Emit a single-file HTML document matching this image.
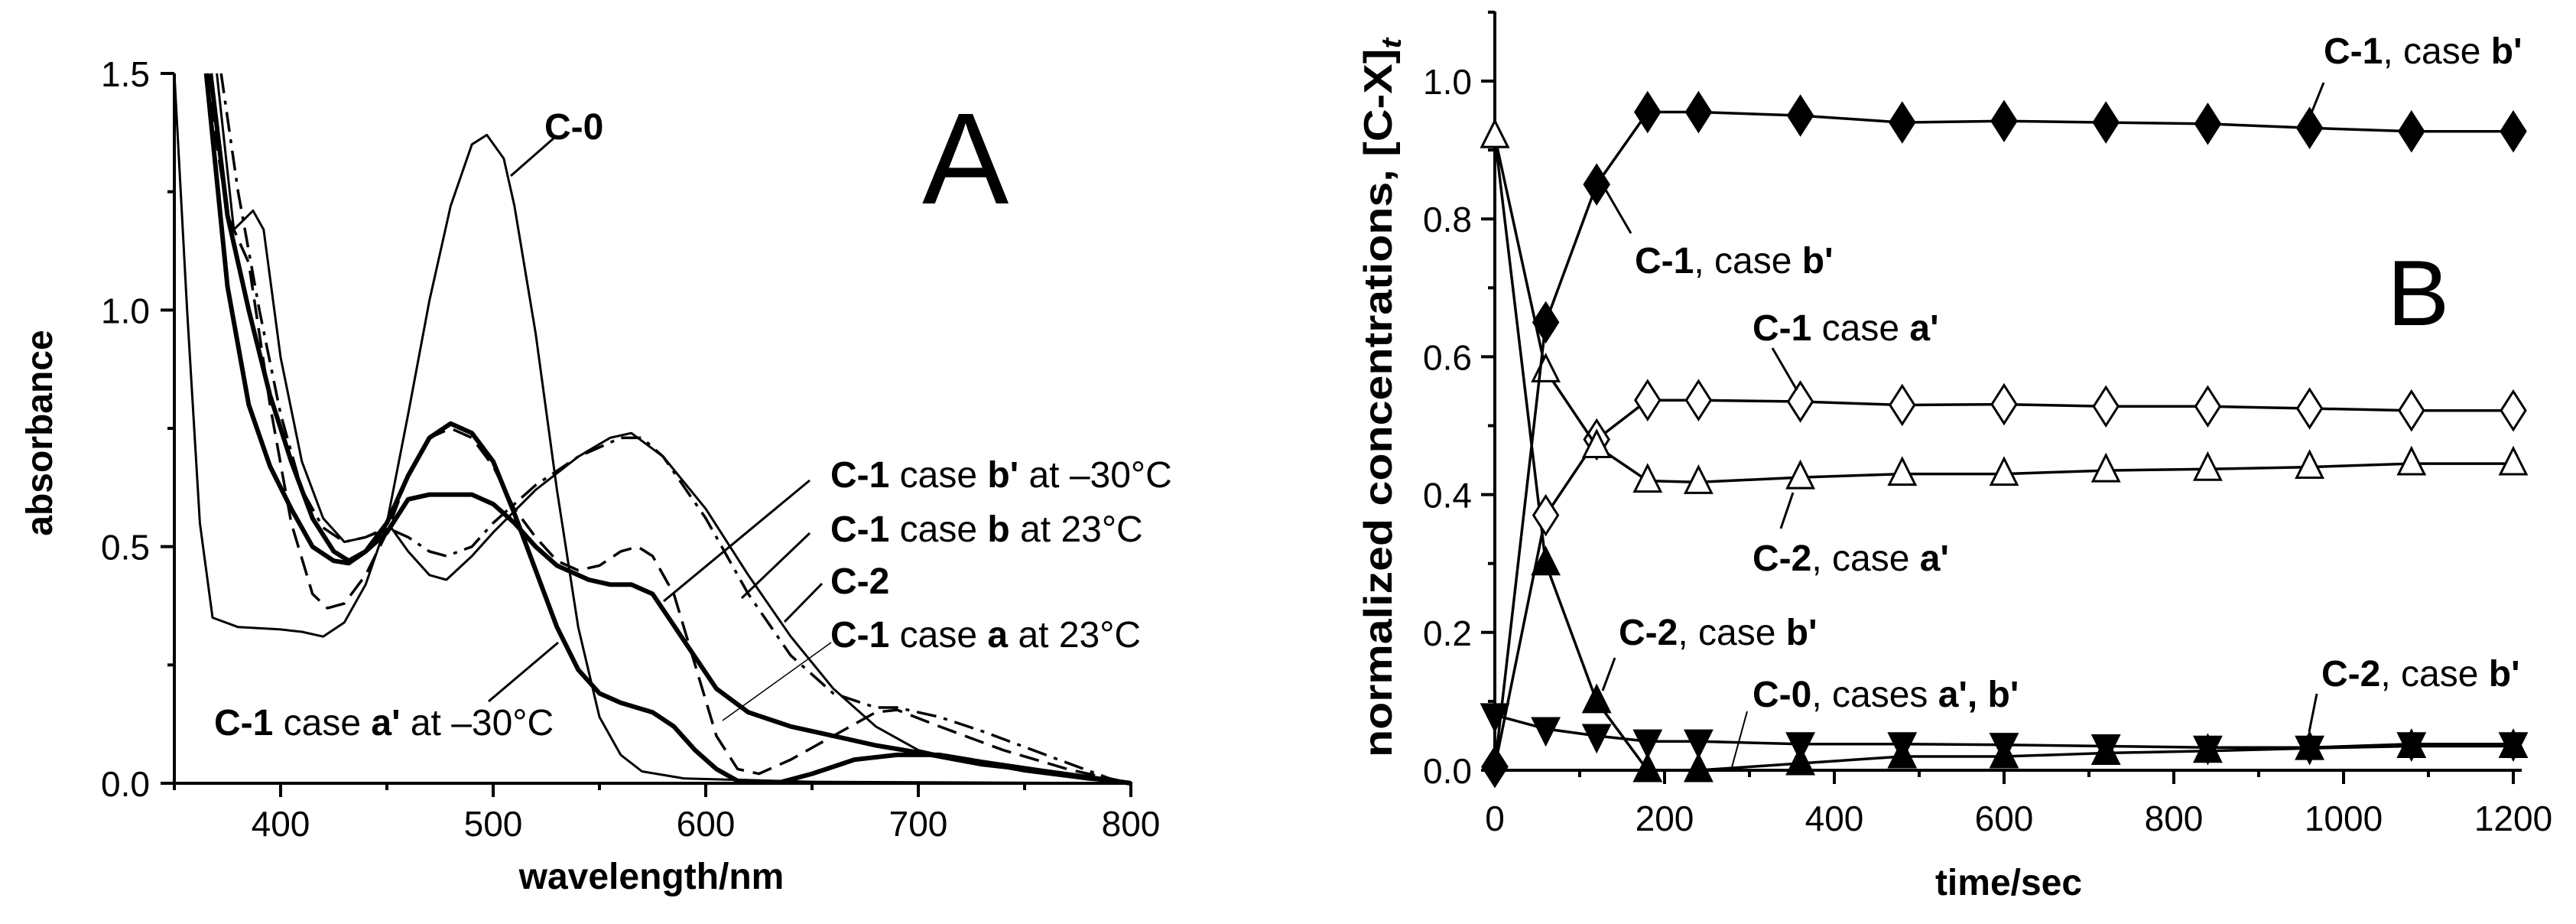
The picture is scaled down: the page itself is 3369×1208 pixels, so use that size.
<!DOCTYPE html>
<html><head><meta charset="utf-8">
<style>
html,body{margin:0;padding:0;background:#fff;}
svg{display:block;font-family:"Liberation Sans",Arial,sans-serif;}
</style></head>
<body>
<svg id="fig" width="3369" height="1208" viewBox="0 0 3369 1208" xmlns="http://www.w3.org/2000/svg">
<g id="panelA"></g>
<g id="panelB"></g>
</svg>
<script>
// ---------- Panel A data ----------
const aXTicks = [400, 500, 600, 700, 800];
const aYTicks = ["0.0", "0.5", "1.0", "1.5"];
const specC0 = [[350,1.5],[356,1.0],[362,0.55],[368,0.35],[380,0.33],[400,0.325],[410,0.32],[420,0.31],[430,0.34],[440,0.42],[450,0.55],[460,0.78],[470,1.02],[480,1.22],[490,1.35],[497,1.37],[505,1.32],[510,1.22],[520,0.95],[530,0.62],[540,0.33],[550,0.14],[560,0.06],[570,0.025],[590,0.01],[650,0.003],[800,0]];
const specC2 = [[370,1.5],[378,1.17],[387,1.21],[392,1.17],[400,0.9],[410,0.68],[420,0.56],[430,0.51],[440,0.52],[452,0.54],[460,0.49],[470,0.44],[478,0.43],[490,0.48],[500,0.53],[520,0.62],[540,0.69],[555,0.73],[565,0.74],[580,0.69],[600,0.58],[620,0.44],[640,0.31],[660,0.2],[680,0.12],[700,0.07],[720,0.05],[750,0.025],[780,0.008],[800,0]];
const specC1b = [[372,1.5],[380,1.25],[390,1.0],[400,0.78],[410,0.62],[420,0.54],[430,0.51],[440,0.52],[450,0.54],[460,0.52],[470,0.49],[478,0.48],[490,0.5],[500,0.55],[520,0.63],[540,0.69],[560,0.73],[570,0.73],[580,0.69],[600,0.56],[620,0.4],[640,0.27],[660,0.19],[680,0.16],[690,0.16],[710,0.14],[730,0.11],[760,0.06],[790,0.01],[800,0]];
const specC1bp = [[367,1.5],[375,1.2],[385,1.0],[395,0.82],[405,0.68],[415,0.56],[425,0.49],[432,0.47],[440,0.49],[450,0.53],[460,0.6],[470,0.61],[480,0.61],[490,0.61],[500,0.59],[510,0.55],[520,0.5],[530,0.46],[545,0.43],[555,0.42],[565,0.42],[575,0.4],[590,0.3],[605,0.2],[620,0.15],[640,0.12],[660,0.1],[680,0.08],[700,0.065],[730,0.04],[760,0.025],[800,0]];
const specC1ap = [[365,1.5],[375,1.05],[385,0.8],[395,0.67],[405,0.58],[415,0.5],[425,0.47],[432,0.465],[440,0.49],[450,0.55],[460,0.65],[470,0.73],[480,0.76],[490,0.74],[500,0.68],[510,0.57],[520,0.45],[530,0.33],[540,0.24],[550,0.19],[560,0.17],[575,0.15],[585,0.12],[595,0.07],[605,0.03],[615,0.005],[635,0.002],[650,0.02],[670,0.05],[690,0.06],[710,0.06],[730,0.045],[760,0.025],[800,0]];
const specC1a = [[365,1.5],[375,1.2],[385,1.1],[395,0.8],[405,0.55],[415,0.4],[422,0.37],[430,0.38],[440,0.44],[450,0.53],[460,0.65],[470,0.73],[480,0.75],[490,0.73],[500,0.67],[510,0.58],[520,0.52],[530,0.47],[540,0.45],[550,0.46],[560,0.49],[568,0.5],[575,0.48],[585,0.4],[595,0.25],[605,0.1],[615,0.03],[625,0.02],[640,0.05],[660,0.1],[680,0.15],[690,0.155],[710,0.12],[740,0.07],[770,0.03],[800,0]];

// ---------- Panel B data ----------
const bTimes = [0,60,120,180,240,360,480,600,720,840,960,1080,1200];
const bXTicks = [0,200,400,600,800,1000,1200];
const bYTicks = ["0.0","0.2","0.4","0.6","0.8","1.0"];
const c1bp = [0.005,0.65,0.85,0.955,0.955,0.95,0.94,0.942,0.94,0.938,0.932,0.927,0.927];
const c1ap = [0.005,0.37,0.48,0.537,0.537,0.535,0.53,0.531,0.528,0.528,0.525,0.522,0.522];
const c2ap = [0.92,0.58,0.47,0.42,0.418,0.425,0.43,0.43,0.435,0.437,0.44,0.445,0.445];
const c2bp = [0.92,0.3,0.1,0.0,0.0,0.01,0.02,0.02,0.025,0.028,0.032,0.035,0.035];
const c0 = [0.08,0.06,0.05,0.042,0.042,0.038,0.038,0.037,0.035,0.033,0.033,0.038,0.038];

const NS = "http://www.w3.org/2000/svg";
function mk(parent, tag, attrs, text){
  const e = document.createElementNS(NS, tag);
  for (const k in attrs) e.setAttribute(k, attrs[k]);
  if (text !== undefined) e.textContent = text;
  parent.appendChild(e);
  return e;
}

// ================= Panel A =================
const A = document.getElementById('panelA');
const ax = v => 228 + (v - 350) * (1479 - 228) / 450;
const ay = v => 1024 - v * (1024 - 96) / 1.5;

let e;
e = mk(A,'line',{x1:228,y1:96,x2:228,y2:1026,stroke:'#000','stroke-width':4});
 
e = mk(A,'line',{x1:226,y1:1024,x2:1481,y2:1024,stroke:'#000','stroke-width':4});
 
for (let v = 350; v <= 800; v += 50) {
  const major = v % 100 === 0;
  e = mk(A,'line',{x1:ax(v),y1:1024,x2:ax(v),y2:1024+(major?18:9),stroke:'#000','stroke-width':4});
   
}
aXTicks.forEach(v=>{
  e = mk(A,'text',{x:ax(v),y:1093,'font-size':46,'text-anchor':'middle'}, String(v));
   
});
for (let v = 0; v <= 1.5001; v += 0.25) {
  const major = Math.abs(v*2 - Math.round(v*2)) < 1e-6;
  e = mk(A,'line',{x1:228-(major?18:9),y1:ay(v),x2:228,y2:ay(v),stroke:'#000','stroke-width':4});
   
}
aYTicks.forEach(t=>{
  e = mk(A,'text',{x:196,y:ay(parseFloat(t))+17,'font-size':46,'text-anchor':'end'}, t);
   
});
e = mk(A,'text',{x:852,y:1162,'font-size':48,'font-weight':'bold','text-anchor':'middle'},'wavelength/nm');
 
e = mk(A,'text',{x:0,y:0,'font-size':48,'font-weight':'bold','text-anchor':'middle',transform:'translate(68,566) rotate(-90)'},'absorbance');
 

function specPath(data){ return data.map((p,i)=>(i?'L':'M')+ax(p[0]).toFixed(1)+','+ay(p[1]).toFixed(1)).join(' '); }
const specs = [
  [specC0,'spectrum-c0',3,null],
  [specC2,'spectrum-c2',3,null],
  [specC1b,'spectrum-c1-case-b',3.5,'26,10,5,10'],
  [specC1a,'spectrum-c1-case-a',3.5,'26,12'],
  [specC1bp,'spectrum-c1-case-b-prime',6,null],
  [specC1ap,'spectrum-c1-case-a-prime',6,null]
];
specs.forEach(s=>{
  const attrs = {d:specPath(s[0]),fill:'none',stroke:'#000','stroke-width':s[2],'stroke-linejoin':'round'};
  if (s[3]) attrs['stroke-dasharray'] = s[3];
  e = mk(A,'path',attrs);
   
});

function label(parent, x, y, parts, size, name){
  const t = mk(parent,'text',{x:x,y:y,'font-size':size});
  parts.forEach(p=>{ mk(t,'tspan',p[1]?{'font-weight':'bold'}:{}, p[0]); });
  
  
  return t;
}
function ptr(parent, x1,y1,x2,y2,w,name){
  const l = mk(parent,'line',{x1,y1,x2,y2,stroke:'#000','stroke-width':w});
  
  
}
label(A,712,182,[['C-0',true]],48,'label-c0');
ptr(A,725,180,668,230,3,'pointer-c0');
e = mk(A,'text',{x:1206,y:266,'font-size':170},'A');
 
label(A,1086,637,[['C-1',true],[' case '],['b\'',true],[' at \u201330\u00b0C']],48,'label-c1-case-b-prime');
ptr(A,1059,628,868,786,3,'pointer-c1-case-b-prime');
label(A,1086,708,[['C-1',true],[' case '],['b',true],[' at 23\u00b0C']],48,'label-c1-case-b');
ptr(A,1059,697,970,782,3,'pointer-c1-case-b');
label(A,1086,776,[['C-2',true]],48,'label-c2');
ptr(A,1075,763,1026,813,3,'pointer-c2');
label(A,1086,846,[['C-1',true],[' case '],['a',true],[' at 23\u00b0C']],48,'label-c1-case-a');
ptr(A,1087,840,945,942,1.5,'pointer-c1-case-a');
label(A,280,961,[['C-1',true],[' case '],['a\'',true],[' at \u201330\u00b0C']],48,'label-c1-case-a-prime');
ptr(A,730,840,639,917,3,'pointer-c1-case-a-prime');

// ================= Panel B =================
const B = document.getElementById('panelB');
const bx = v => 1955 + v * (3287 - 1955) / 1200;
const by = v => 1007 - v * (1007 - 106) / 1.0;

e = mk(B,'line',{x1:1955,y1:15,x2:1955,y2:1009,stroke:'#000','stroke-width':4});
 
e = mk(B,'line',{x1:1953,y1:1007,x2:3298,y2:1007,stroke:'#000','stroke-width':4});
 
for (let v = 0; v <= 1200; v += 100) {
  const major = v % 200 === 0;
  e = mk(B,'line',{x1:bx(v),y1:1007,x2:bx(v),y2:1007+(major?18:9),stroke:'#000','stroke-width':4});
   
}
bXTicks.forEach(v=>{
  e = mk(B,'text',{x:bx(v),y:1086,'font-size':46,'text-anchor':'middle'}, String(v));
   
});
for (let i = 0; i <= 11; i++) {
  const v = i/10, major = i % 2 === 0;
  e = mk(B,'line',{x1:1955-(major?18:9),y1:by(v),x2:1955,y2:by(v),stroke:'#000','stroke-width':4});
   
}
bYTicks.forEach(t=>{
  e = mk(B,'text',{x:1925,y:by(parseFloat(t))+17,'font-size':46,'text-anchor':'end'}, t);
   
});
e = mk(B,'text',{x:2627,y:1170,'font-size':48,'font-weight':'bold','text-anchor':'middle'},'time/sec');
 
const yt = mk(B,'text',{x:0,y:0,'font-size':52,'font-weight':'bold','text-anchor':'middle',textLength:940,lengthAdjust:'spacingAndGlyphs',transform:'translate(1820,520) rotate(-90)'});
 
mk(yt,'tspan',{},'normalized concentrations, [C-X]');
mk(yt,'tspan',{'font-style':'italic','font-size':36,dy:12},'t');

function marker(parent, type, x, y, name){
  let d, fill = (type.indexOf('open') === 0) ? '#fff' : '#000';
  if (type.endsWith('diamond')) d = `M${x},${y-25} L${x+16},${y} L${x},${y+25} L${x-16},${y} Z`;
  else if (type.endsWith('up')) d = `M${x},${y-20} L${x+17},${y+14} L${x-17},${y+14} Z`;
  else d = `M${x},${y+20} L${x+17},${y-14} L${x-17},${y-14} Z`;
  const m = mk(parent,'path',{d, fill, stroke:'#000','stroke-width':3,'stroke-linejoin':'miter'});
  
  
}
const bSeries = [
  [c0,'filled-down','series-c0'],
  [c2bp,'filled-up','series-c2-case-b-prime'],
  [c1ap,'open-diamond','series-c1-case-a-prime'],
  [c2ap,'open-up','series-c2-case-a-prime'],
  [c1bp,'filled-diamond','series-c1-case-b-prime']
];
bSeries.forEach(s=>{
  const g = mk(B,'g',{});
  
  
  const d = s[0].map((v,i)=>(i?'L':'M')+bx(bTimes[i]).toFixed(1)+','+by(v).toFixed(1)).join(' ');
  const ln = mk(g,'path',{d, fill:'none', stroke:'#000','stroke-width':3.5});
  
  
  s[0].forEach((v,i)=> marker(g, s[1], bx(bTimes[i]), by(v), s[2]+'-point'));
});

label(B,3039,83,[['C-1',true],[', case '],['b\'',true]],48,'label-b-c1-case-b-prime-top');
ptr(B,3039,108,3020,155,3,'pointer-b-c1-top');
label(B,2138,357,[['C-1',true],[', case '],['b\'',true]],48,'label-b-c1-case-b-prime');
ptr(B,2133,305,2097,243,3,'pointer-b-c1-case-b-prime');
e = mk(B,'text',{x:3122,y:425,'font-size':122},'B');
 
label(B,2292,445,[['C-1',true],[' case '],['a\'',true]],48,'label-b-c1-case-a-prime');
ptr(B,2318,455,2350,510,3,'pointer-b-c1-case-a-prime');
label(B,2292,746,[['C-2',true],[', case '],['a\'',true]],48,'label-b-c2-case-a-prime');
ptr(B,2329,691,2345,644,3,'pointer-b-c2-case-a-prime');
label(B,2117,843,[['C-2',true],[', case '],['b\'',true]],48,'label-b-c2-case-b-prime');
ptr(B,2112,860,2096,903,3,'pointer-b-c2-case-b-prime');
label(B,2292,924,[['C-0',true],[', cases '],['a\', b\'',true]],48,'label-b-c0');
ptr(B,2285,930,2265,1003,2,'pointer-b-c0');
label(B,3036,897,[['C-2',true],[', case '],['b\'',true]],48,'label-b-c2-case-b-prime-right');
ptr(B,3030,907,3020,957,3,'pointer-b-c2-right');
</script>
</body></html>
